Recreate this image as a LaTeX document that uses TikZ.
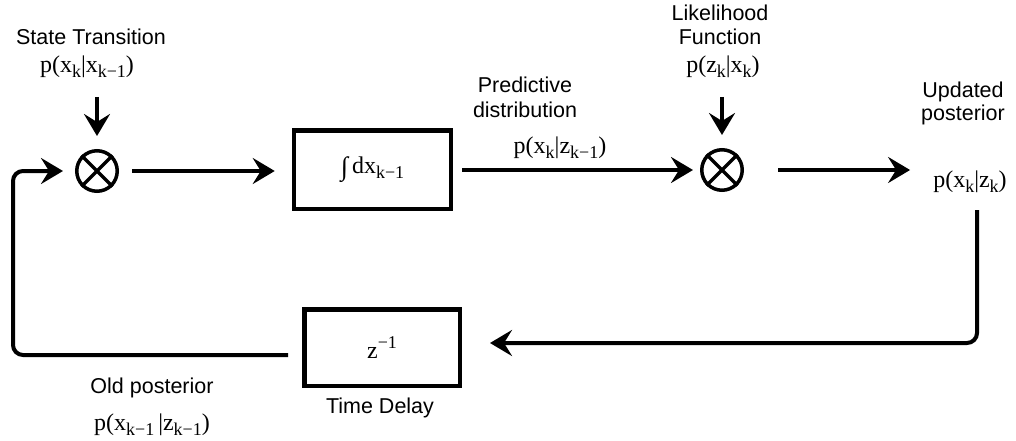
\documentclass[tikz,border=0pt]{standalone}
\usepackage{fontspec}
\setmainfont{Liberation Serif}
\newfontfamily\sansf{Liberation Sans}
\usetikzlibrary{arrows.meta}
\newcommand\sbs[1]{\raisebox{-0.22em}{\scalebox{0.75}{#1}}}
\newcommand\sps[1]{\raisebox{0.45em}{\scalebox{0.75}{#1}}}
\tikzset{
  sans/.style={inner sep=0pt, font=\sansf\fontsize{21.5}{26}\selectfont},
  serif/.style={inner sep=0pt, font=\fontsize{24}{28}\selectfont},
  arr/.style={line width=4pt, -{Stealth[length=22pt,width=26pt,inset=8pt]}},
  blk/.style={draw, line width=4.5pt, inner sep=0pt, font=\fontsize{24}{28}\selectfont},
  mult/.style={draw, circle, line width=3.5pt, minimum size=40.5pt, inner sep=0pt},
  crossln/.style={line width=3.5pt}
}
\begin{document}
\begin{tikzpicture}[x=1pt,y=-1pt]
\useasboundingbox[fill=white] (0,0) rectangle (1016,441);

% multipliers
\node[mult] (m1) at (97,171) {};
\node[mult] (m2) at (722,170) {};
\draw[crossln] (m1.north west) -- (m1.south east) (m1.north east) -- (m1.south west);
\draw[crossln] (m2.north west) -- (m2.south east) (m2.north east) -- (m2.south west);

% blocks
\node[blk, minimum width=157pt, minimum height=78.5pt] (box1) at (372.5,169.5) {\raisebox{-0.1em}{\scalebox{1.1}{∫}}\,dx\sbs{k−1}};
\node[blk, minimum width=155.5pt, minimum height=76.5pt] (box2) at (382,347.5) {z\sps{−1}};

% labels
\node[sans] (st1) at (91,37) {State Transition};
\node[serif] (st2) at (87,67) {p(x\sbs{k}|x\sbs{k−1})};
\node[sans] (lk1) at (720,13) {Likelihood};
\node[sans] (lk2) at (720,37) {Function};
\node[serif] (lk3) at (723,67) {p(z\sbs{k}|x\sbs{k})};
\node[sans] (pd1) at (525,85) {Predictive};
\node[sans] (pd2) at (525,110) {distribution};
\node[serif] (pd3) at (560,148) {p(x\sbs{k}|z\sbs{k−1})};
\node[sans] (up1) at (963,92) {Updated};
\node[sans] (up2) at (963,115) {posterior};
\node[serif] (post) at (970,182) {p(x\sbs{k}|z\sbs{k})};
\node[sans] (op1) at (152,388) {Old posterior};
\node[serif] (op2) at (152,425) {p(x\sbs{k−1}\,|z\sbs{k−1})};
\node[sans] (td) at (380,408) {Time Delay};

% connector end points
\coordinate (c1) at (97,97);
\coordinate (c2) at (722,97);
\coordinate (r1) at (977,210);
\coordinate (lc) at (13,171);

% forward path
\draw[arr, shorten >=13pt] (c1) -- (m1.north);
\draw[arr, shorten >=13pt] (c2) -- (m2.north);
\draw[arr, shorten <=13pt, shorten >=17pt] (m1.east) -- (box1.west |- m1.east);
\draw[arr, shorten <=9pt, shorten >=7pt] (box1.east |- m2.west) -- (m2.west);
\draw[arr, shorten <=34pt, shorten >=23pt] (m2.east) -- (m2.east -| post.west);

% feedback path
\draw[arr, rounded corners=10pt, shorten >=28pt] (r1) |- ([yshift=4.5pt]box2.east);
\draw[arr, rounded corners=10pt, shorten <=14pt, shorten >=12pt] ([yshift=-7.5pt]box2.west) -| (lc) -- (m1.west);
\end{tikzpicture}
\end{document}
